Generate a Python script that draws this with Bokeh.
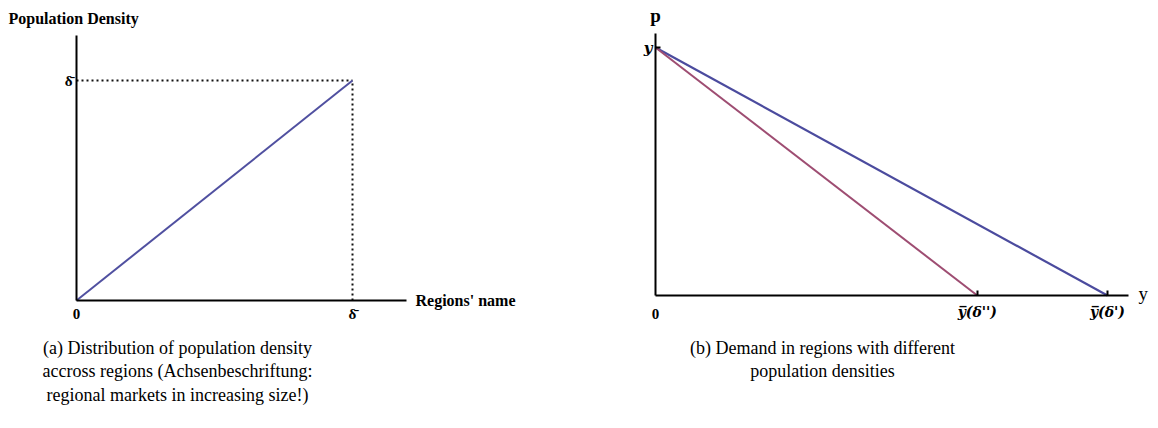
from bokeh.plotting import figure
from bokeh.layouts import row
from bokeh.models import LinearAxis, FixedTicker, Range1d
from bokeh.core.properties import value
from bokeh.embed import file_html
from bokeh.resources import INLINE

# ---------------- data ----------------
# Panel (a): population density rises linearly across regions (0 .. δ̄)
delta_bar = 1.0
region_x = [0.0, 1.0]
density_y = [0.0, 1.0]
a_xticks = [0.0, 1.0]
a_xtick_labels = ["0", "δ\u0304"]
a_yticks = [1.0]
a_ytick_labels = ["δ\u0304"]

# Panel (b): linear demand curves with a common choke price
choke_price = 1.0
y_bar_high = 1.0      # ȳ(δ')
y_bar_low = 0.712     # ȳ(δ'')
demand_high_x = [0.0, 1.0]
demand_high_p = [1.0, 0.0]
demand_low_x = [0.0, 0.712]
demand_low_p = [1.0, 0.0]
b_xticks = [0.712, 1.0]
b_xtick_labels = ["y\u0305(δ'')", "y\u0305(δ')"]
b_yticks = [1.0]
b_ytick_labels = ["y"]

caption_a = ["(a) Distribution of population density",
             "accross regions (Achsenbeschriftung:",
             "regional markets in increasing size!)"]
caption_b = ["(b) Demand in regions with different",
             "population densities"]

# ---------------- layout geometry (picture pixels) ----------------
H = 420
TOP = 0
SERIF = "Liberation Serif"
MATH = "DejaVu Serif"

# panel (a)
A_LEFT, A_W = 0, 590
A_OX, A_OY = 76, 300
A_UX, A_UY = 276.0, 220.0


def ax(px):
    return (px - A_OX) / A_UX


def ay(py):
    return (A_OY - py) / A_UY


# panel (b)
B_LEFT, B_W = 590, 560
B_OX, B_OY = 655, 295
B_UX, B_UY = 452.0, 248.0


def bx(px):
    return (px - B_OX) / B_UX


def by(py):
    return (B_OY - py) / B_UY


def base_fig(w, xr, yr):
    p = figure(width=w, height=H, x_range=xr, y_range=yr,
               output_backend="svg", toolbar_location=None,
               x_axis_location=None, y_axis_location=None,
               min_border=0, outline_line_color=None,
               background_fill_color="white", border_fill_color="white")
    p.grid.visible = False
    return p


def style_axis(a, font, style, size, standoff, tick_in):
    a.axis_line_width = 2
    a.axis_line_color = "black"
    a.major_tick_in = tick_in
    a.major_tick_out = 0
    a.major_tick_line_width = 2
    a.major_tick_line_color = "black"
    a.minor_tick_in = 0
    a.minor_tick_out = 0
    a.major_label_text_font = font
    a.major_label_text_font_style = style
    a.major_label_text_font_size = size
    a.major_label_text_color = "black"
    a.major_label_standoff = standoff


# ================= panel (a) =================
pa = base_fig(A_W,
              Range1d(ax(A_LEFT), ax(A_LEFT + A_W)),
              Range1d(ay(TOP + H), ay(TOP)))

xa = LinearAxis(fixed_location=0, bounds=(0, 1.196),
                ticker=FixedTicker(ticks=a_xticks),
                major_label_overrides=dict(zip(a_xticks, a_xtick_labels)))
style_axis(xa, SERIF, "bold", "15px", 5, 0)
pa.add_layout(xa, "below")

ya = LinearAxis(fixed_location=0, bounds=(0, 1.205),
                ticker=FixedTicker(ticks=a_yticks),
                major_label_overrides=dict(zip(a_yticks, a_ytick_labels)))
style_axis(ya, SERIF, "bold", "15px", 4, 0)
pa.add_layout(ya, "left")

# dotted guides to δ̄
pa.line([0, delta_bar], [delta_bar, delta_bar], line_color="#111111",
        line_width=2, line_dash="2 3")
pa.line([delta_bar, delta_bar], [0, delta_bar], line_color="#111111",
        line_width=2, line_dash="2 3")
pa.line(region_x, density_y, line_color="#5050a0", line_width=2)

pa.text(x=[ax(8)], y=[ay(18)], text=["Population Density"],
        text_font=value(SERIF), text_font_style="bold", text_font_size="16px",
        text_align="left", text_baseline="middle", text_color="black")
pa.text(x=[ax(415)], y=[ay(300)], text=["Regions' name"],
        text_font=value(SERIF), text_font_style="bold", text_font_size="16px",
        text_align="left", text_baseline="middle", text_color="black")
pa.text(x=[ax(177)] * 3, y=[ay(347), ay(370), ay(394)], text=caption_a,
        text_font=value(SERIF), text_font_size="18px",
        text_align="center", text_baseline="middle", text_color="black")

# ================= panel (b) =================
pb = base_fig(B_W,
              Range1d(bx(B_LEFT), bx(B_LEFT + B_W)),
              Range1d(by(TOP + H), by(TOP)))

xb = LinearAxis(fixed_location=0, bounds=(0, 1.046),
                ticker=FixedTicker(ticks=b_xticks),
                major_label_overrides=dict(zip(b_xticks, b_xtick_labels)))
style_axis(xb, MATH, "bold italic", "14px", 8, 5)
pb.add_layout(xb, "below")

yb = LinearAxis(fixed_location=0, bounds=(0, 1.056),
                ticker=FixedTicker(ticks=b_yticks),
                major_label_overrides=dict(zip(b_yticks, b_ytick_labels)))
style_axis(yb, MATH, "bold italic", "15px", 3, 5)
pb.add_layout(yb, "left")

pb.line(demand_high_x, demand_high_p, line_color="#4b4b9e", line_width=2.2)
pb.line(demand_low_x, demand_low_p, line_color="#9e4d72", line_width=2)

pb.text(x=[0], y=[by(313)], text=["0"],
        text_font=value(SERIF), text_font_style="bold", text_font_size="15px",
        text_align="center", text_baseline="middle", text_color="black")
pb.text(x=[0], y=[by(15)], text=["p"],
        text_font=value(SERIF), text_font_style="bold", text_font_size="19px",
        text_align="center", text_baseline="middle", text_color="black")
pb.text(x=[bx(1138)], y=[by(293)], text=["y"],
        text_font=value(SERIF), text_font_size="19px",
        text_align="left", text_baseline="middle", text_color="black")
pb.text(x=[bx(822)] * 2, y=[by(347), by(370)], text=caption_b,
        text_font=value(SERIF), text_font_size="18px",
        text_align="center", text_baseline="middle", text_color="black")

layout = row(pa, pb)
open("out.html", "w").write(file_html(layout, INLINE))
